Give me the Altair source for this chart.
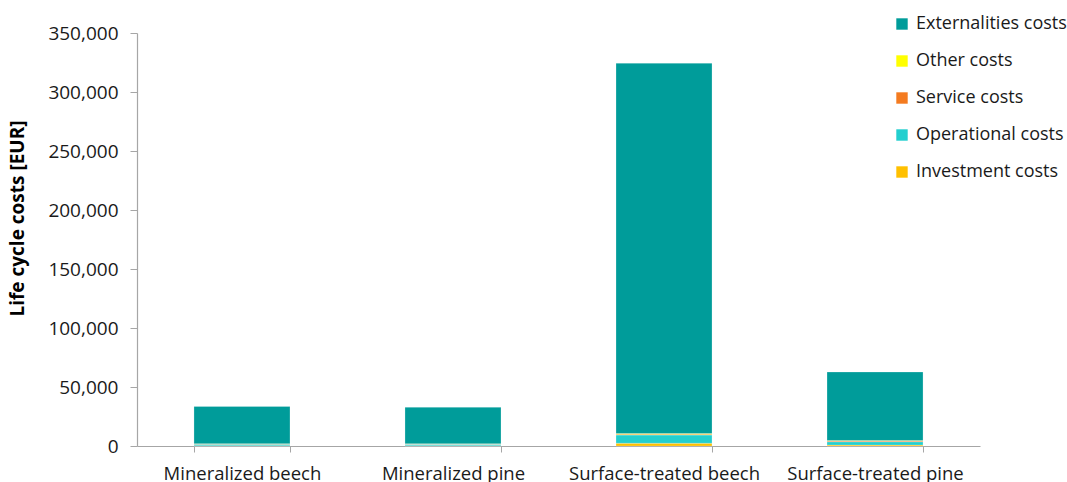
import altair as alt
import pandas as pd

# Life cycle cost components per product variant (EUR)
products = ["Mineralized beech", "Mineralized pine", "Surface-treated beech", "Surface-treated pine"]
cost_types = ["Investment costs", "Operational costs", "Service costs", "Other costs", "Externalities costs"]
investment = [300, 300, 2300, 800]
operational = [1200, 1100, 7000, 2800]
service = [200, 200, 700, 600]
other = [300, 300, 600, 500]
externalities = [31500, 30900, 313800, 58000]
colors = ["#FFC000", "#22CFCF", "#F47B20", "#FFFF00", "#009C9A"]

series = [investment, operational, service, other, externalities]
rows = []
for ci, (ctype, vals) in enumerate(zip(cost_types, series)):
    for p, v in zip(products, vals):
        rows.append({"Product": p, "Cost": ctype, "Value": v, "order": ci})
df = pd.DataFrame(rows)

font = "Open Sans"

chart = alt.Chart(df).mark_bar(stroke="#ffffff", strokeWidth=0.4, strokeOpacity=0.6).encode(
    x=alt.X("Product:N", sort=products, title=None,
            scale=alt.Scale(paddingInner=0.545, paddingOuter=0.27),
            axis=alt.Axis(labelAngle=0, labelFontSize=18.5, labelColor="#1a1a1a", labelFont=font,
                          labelPadding=12, labelLimit=400, tickBand="extent", tickSize=6,
                          tickColor="#a6a6a6", domainColor="#a6a6a6", domainWidth=1.2)),
    y=alt.Y("Value:Q", stack="zero", title="Life cycle costs [EUR]",
            scale=alt.Scale(domain=[0, 350000], nice=False),
            axis=alt.Axis(values=list(range(0, 350001, 50000)), format=",.0f", grid=False,
                          labelFontSize=19, labelColor="#1a1a1a", labelFont=font, labelPadding=12,
                          tickSize=7, tickColor="#a6a6a6", domainColor="#a6a6a6", domainWidth=1.2,
                          titleFontSize=19, titleFont=font, titleFontWeight="bold",
                          titleColor="#000000", titlePadding=20, titleY=185)),
    color=alt.Color("Cost:N",
                    scale=alt.Scale(domain=list(reversed(cost_types)), range=list(reversed(colors))),
                    legend=alt.Legend(title=None, orient="none", legendX=756, legendY=-18,
                                      symbolType="square", symbolSize=130, symbolStrokeWidth=0,
                                      labelFontSize=18, labelFont=font, labelColor="#1a1a1a",
                                      rowPadding=19, labelOffset=5)),
    order=alt.Order("order:Q", sort="ascending"),
).properties(
    width=843, height=413,
    autosize=alt.AutoSizeParams(type="none"),
    padding={"left": 137, "top": 33, "right": 87, "bottom": 36},
).configure_view(stroke=None)

chart.save("out.html", embed_options={"renderer": "svg", "actions": False})
